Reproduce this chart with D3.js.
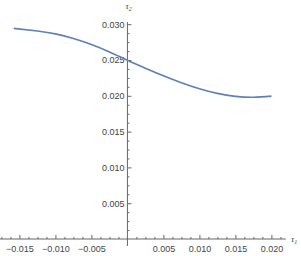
<!DOCTYPE html>
<html><head><meta charset="utf-8">
<script src="https://cdn.jsdelivr.net/npm/d3@7"></script>
<style>
html,body{margin:0;padding:0;background:#fff;}
svg{display:block;font-family:"Liberation Sans",Arial,sans-serif;}
</style></head>
<body>
<svg id="c" width="301" height="256"></svg>
<script>
const tau1 = [-0.0158, -0.0125, -0.01, -0.0075, -0.005, -0.0025, 0, 0.0025, 0.005, 0.0075, 0.01, 0.0125, 0.015, 0.0175, 0.02];
const tau2 = [0.02943, 0.02905, 0.02865, 0.02800, 0.02716, 0.02613, 0.02496, 0.02385, 0.02279, 0.02182, 0.02098, 0.02033, 0.01993, 0.01980, 0.01995];
const xTicks = [-0.015, -0.01, -0.005, 0.005, 0.01, 0.015, 0.02];
const yTicks = [0.005, 0.01, 0.015, 0.02, 0.025, 0.03];
const xLabel = "τ", xSub = "1", yLabel = "τ", ySub = "2";

const svg = d3.select("#c");
const x = d3.scaleLinear().domain([-0.0177, 0.0220]).range([0, 285.8]);
const y = d3.scaleLinear().domain([0, 0.03]).range([239, 24.2]);
const axisColor = "#666", textColor = "#444";
const fmt = d => (d < 0 ? "\u2212" : "") + Math.abs(d).toFixed(3);

// minor ticks
const xMinor = d3.range(-0.0175, 0.02201, 0.00125).filter(v => Math.abs(v / 0.005 - Math.round(v / 0.005)) > 1e-6);
const yMinor = d3.range(0.00125, 0.0301, 0.00125).filter(v => Math.abs(v / 0.005 - Math.round(v / 0.005)) > 1e-6);

const xa = svg.append("g").attr("transform", `translate(0,${y(0)})`);
xa.call(d3.axisBottom(x).tickValues(xTicks).tickSizeInner(-4).tickSizeOuter(0).tickPadding(7).tickFormat(fmt));
xa.append("g").call(d3.axisBottom(x).tickValues(xMinor).tickSizeInner(-2).tickSizeOuter(0).tickFormat(""));
xa.selectAll(".domain").remove();
xa.append("line").attr("x1", 0).attr("x2", x(0.0220)).attr("stroke", axisColor);

const ya = svg.append("g").attr("transform", `translate(${x(0)},0)`);
ya.call(d3.axisLeft(y).tickValues(yTicks).tickSizeInner(-4).tickSizeOuter(0).tickPadding(3).tickFormat(fmt));
ya.append("g").call(d3.axisLeft(y).tickValues(yMinor).tickSizeInner(-2).tickSizeOuter(0).tickFormat(""));
ya.selectAll(".domain").remove();
ya.append("line").attr("y1", y(0.0303)).attr("y2", y(-0.00098)).attr("stroke", axisColor);

svg.selectAll(".tick line").attr("stroke", axisColor);
svg.selectAll(".tick text").attr("fill", textColor).attr("font-size", 9).attr("font-family", "Liberation Sans, Arial, sans-serif");

// curve
const pts = tau1.map((t, i) => [t, tau2[i]]);
svg.append("path").datum(pts)
  .attr("fill", "none").attr("stroke", "#5E81B5").attr("stroke-width", 1.7)
  .attr("d", d3.line().x(d => x(d[0])).y(d => y(d[1])).curve(d3.curveNatural));

// axis labels
const yl = svg.append("text").attr("x", x(0) - 2).attr("y", 9).attr("fill", textColor)
  .attr("font-size", 9).attr("font-style", "italic").attr("font-family", "Liberation Serif, serif");
yl.append("tspan").text(yLabel);
yl.append("tspan").attr("font-size", 6).attr("dy", 2).text(ySub);
const xl = svg.append("text").attr("x", 291).attr("y", 242).attr("fill", textColor)
  .attr("font-size", 9).attr("font-style", "italic").attr("font-family", "Liberation Serif, serif");
xl.append("tspan").text(xLabel);
xl.append("tspan").attr("font-size", 6).attr("dy", 2).text(xSub);
</script>
</body></html>
